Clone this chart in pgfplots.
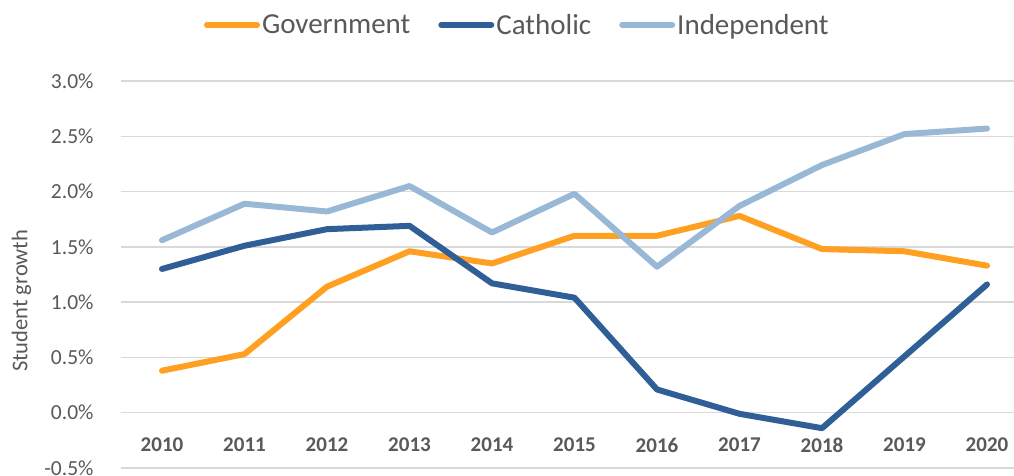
\documentclass[border=0pt]{standalone}
\usepackage{pgfplots}
\pgfplotsset{compat=1.18}
\usepackage{fontspec}
\setmainfont{Carlito}
\definecolor{govc}{HTML}{FFA022}
\definecolor{cathc}{HTML}{2F5F96}
\definecolor{indc}{HTML}{99B8D5}
\definecolor{txt}{HTML}{595959}
\definecolor{gridc}{HTML}{D9D9D9}
\begin{document}
\begin{tikzpicture}
\useasboundingbox (-120.75pt,-8pt) rectangle (893.25pt,468pt);
\begin{axis}[
  at={(0,0)}, anchor=south west,
  scale only axis,
  width=893.25pt, height=387pt,
  xmin=2009.5, xmax=2020.327,
  ymin=-0.5, ymax=3.0,
  xtick={2010,2011,...,2020},
  ytick={-0.5,0,0.5,1,1.5,2,2.5,3},
  /pgf/number format/assume math mode=true,
  xticklabel={\textbf{\pgfmathprintnumber[1000 sep={},precision=0]{\tick}}},
  yticklabel={\pgfmathprintnumber[fixed,fixed zerofill,precision=1]{\tick}\%},
  xticklabel style={anchor=center, yshift=23pt, font=\fontsize{21}{25}\selectfont, text=txt},
  yticklabel style={anchor=east, inner sep=0pt, xshift=-27pt, font=\fontsize{21.5}{25}\selectfont, text=txt},
  ymajorgrids,
  grid style={gridc, line width=1.5pt},
  axis line style={draw=none},
  major tick style={draw=none},
  ylabel={Student growth},
  ylabel style={at={(axis description cs:-0.111,0.432)}, anchor=center, font=\fontsize{22.5}{25}\selectfont, text=txt},
  legend columns=3,
  legend style={at={(axis description cs:0.444,1.145)}, anchor=center, draw=none, fill=none,
    font=\fontsize{29}{32}\selectfont, text=txt,
    /tikz/every odd column/.append style={column sep=0pt},
    /tikz/every even column/.append style={column sep=26pt}},
  legend cell align=left,
  legend image code/.code={\draw[#1, line width=6pt, line cap=round] (0pt,0pt) -- (50pt,0pt);},
  every axis plot/.append style={line width=6pt, line join=round, line cap=round},
]
\addplot[govc] coordinates {(2010,0.38) (2011,0.53) (2012,1.14) (2013,1.46) (2014,1.35) (2015,1.60) (2016,1.60) (2017,1.78) (2018,1.48) (2019,1.46) (2020,1.33)};
\addlegendentry{Government}
\addplot[cathc] coordinates {(2010,1.30) (2011,1.51) (2012,1.66) (2013,1.69) (2014,1.17) (2015,1.04) (2016,0.21) (2017,-0.01) (2018,-0.14) (2019,0.51) (2020,1.16)};
\addlegendentry{Catholic}
\addplot[indc] coordinates {(2010,1.56) (2011,1.89) (2012,1.82) (2013,2.05) (2014,1.63) (2015,1.98) (2016,1.32) (2017,1.87) (2018,2.24) (2019,2.52) (2020,2.57)};
\addlegendentry{Independent}
\end{axis}
\end{tikzpicture}
\end{document}
